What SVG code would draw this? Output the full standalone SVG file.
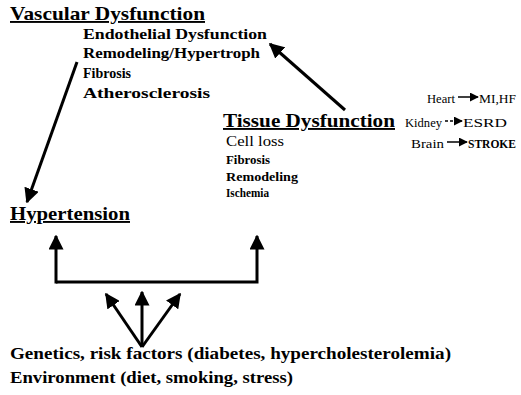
<svg xmlns="http://www.w3.org/2000/svg" width="521" height="395" viewBox="0 0 521 395">
<defs>
<style>
text{font-family:'Liberation Serif','Times New Roman',Times,serif;fill:#000}
.h{font-size:19px;font-weight:bold;text-decoration:underline}
.b{font-size:14px;font-weight:bold}
.g{font-size:16px;font-weight:bold}
.r{font-size:14px}
.s{font-size:13px}
.sb{font-size:12.5px;font-weight:bold}
.ln{stroke:#000;stroke-width:3;fill:none}
.th{stroke:#000;stroke-width:1.5;fill:none}
</style>
<marker id="ah" viewBox="0 0 10 10" refX="9" refY="5" markerWidth="5" markerHeight="5" orient="auto" markerUnits="strokeWidth">
<path d="M0,0 L10,5 L0,10 z" fill="#000"/>
</marker>
<marker id="ahs" viewBox="0 0 10 10" refX="9" refY="5" markerWidth="6" markerHeight="6" orient="auto" markerUnits="strokeWidth">
<path d="M0,0 L10,5 L0,10 z" fill="#000"/>
</marker>
</defs>
<g id="vascular">
<text class="h" x="10" y="20" textLength="195" lengthAdjust="spacingAndGlyphs">Vascular Dysfunction</text>
<text class="b" x="83" y="39" textLength="184" lengthAdjust="spacingAndGlyphs">Endothelial Dysfunction</text>
<text class="b" x="83" y="58" textLength="177" lengthAdjust="spacingAndGlyphs">Remodeling/Hypertroph</text>
<text class="b" x="83" y="78" textLength="48" lengthAdjust="spacingAndGlyphs">Fibrosis</text>
<text class="b" x="83" y="98" textLength="127" lengthAdjust="spacingAndGlyphs">Atherosclerosis</text>
</g>
<g id="tissue">
<text class="h" x="223" y="127" textLength="172" lengthAdjust="spacingAndGlyphs">Tissue Dysfunction</text>
<text class="r" x="226" y="146" textLength="58" lengthAdjust="spacingAndGlyphs">Cell loss</text>
<text class="sb" x="226" y="164" textLength="44" lengthAdjust="spacingAndGlyphs">Fibrosis</text>
<text class="sb" x="226" y="181" textLength="72" lengthAdjust="spacingAndGlyphs">Remodeling</text>
<text class="sb" x="226" y="197" textLength="43" lengthAdjust="spacingAndGlyphs">Ischemia</text>
</g>
<g id="organs">
<text class="s" x="427" y="103" textLength="28" lengthAdjust="spacingAndGlyphs">Heart</text>
<text class="s" x="479" y="103" textLength="37" lengthAdjust="spacingAndGlyphs">MI,HF</text>
<text class="s" x="405" y="127" textLength="37" lengthAdjust="spacingAndGlyphs">Kidney</text>
<text class="s" x="463" y="127" textLength="44" lengthAdjust="spacingAndGlyphs">ESRD</text>
<text class="s" x="411" y="148" textLength="33" lengthAdjust="spacingAndGlyphs">Brain</text>
<text class="s" x="468" y="148" font-weight="bold" textLength="48" lengthAdjust="spacingAndGlyphs">STROKE</text>
</g>
<g id="hypertension">
<text class="h" x="10" y="220" textLength="120" lengthAdjust="spacingAndGlyphs">Hypertension</text>
</g>
<g id="causes">
<text class="g" x="10" y="359" textLength="441" lengthAdjust="spacingAndGlyphs">Genetics, risk factors (diabetes, hypercholesterolemia)</text>
<text class="g" x="10" y="383" textLength="283" lengthAdjust="spacingAndGlyphs">Environment (diet, smoking, stress)</text>
</g>
<g id="connectors">
<line class="ln" x1="345" y1="110" x2="270" y2="44" marker-end="url(#ah)"/>
<line class="ln" x1="77" y1="62" x2="27" y2="202" marker-end="url(#ah)"/>
<polyline class="ln" points="56,282 257,282 257,236" marker-end="url(#ah)"/>
<line class="ln" x1="56" y1="283.5" x2="56" y2="236" marker-end="url(#ah)"/>
<line class="ln" x1="142" y1="347" x2="106" y2="294" marker-end="url(#ah)"/>
<line class="ln" x1="142" y1="347" x2="142" y2="292" marker-end="url(#ah)"/>
<line class="ln" x1="142" y1="347" x2="180" y2="294" marker-end="url(#ah)"/>
<line class="th" x1="458" y1="97" x2="478" y2="97" marker-end="url(#ahs)"/>
<line class="th" x1="445" y1="121" x2="462" y2="121" stroke-dasharray="3,2" marker-end="url(#ahs)"/>
<line class="th" x1="447" y1="142" x2="467" y2="142" marker-end="url(#ahs)"/>
</g>
</svg>
